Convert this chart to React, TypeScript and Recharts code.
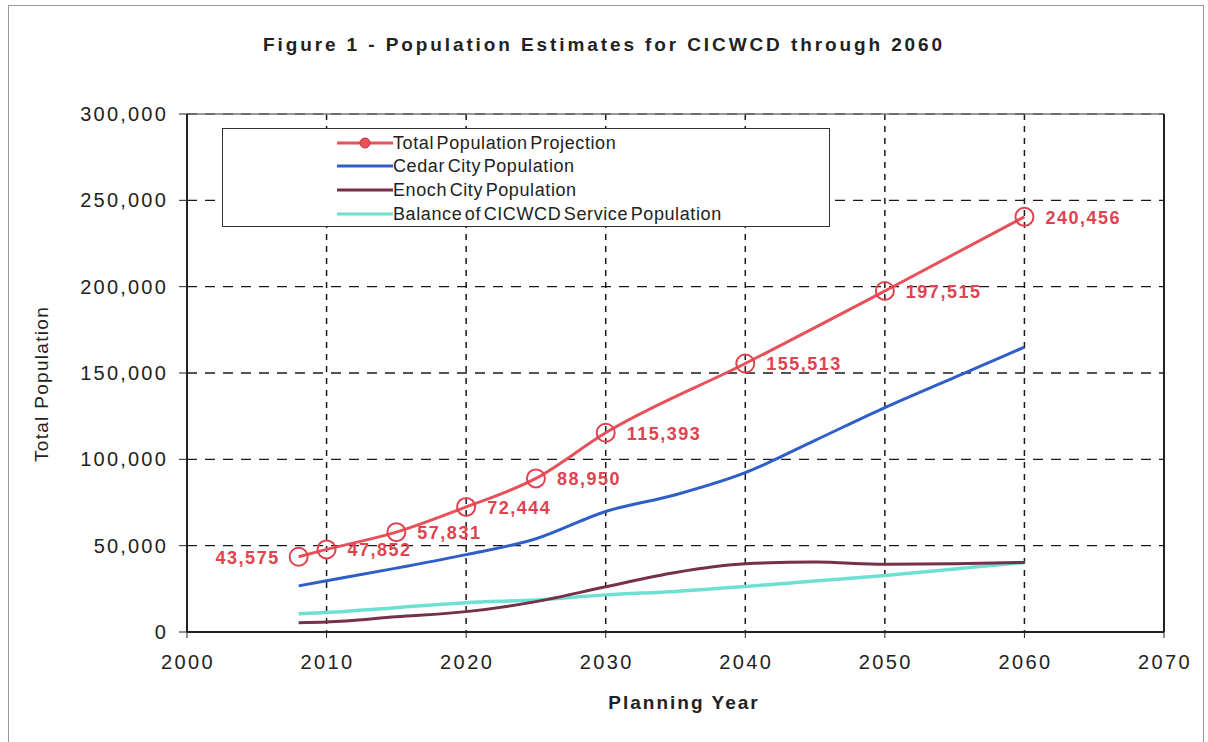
import { LineChart, Line, XAxis, YAxis, CartesianGrid, ReferenceLine, LabelList } from "recharts"

// values
const totalYears = [2008, 2010, 2015, 2020, 2025, 2030, 2040, 2050, 2060]
const totalPopulation = [43575, 47852, 57831, 72444, 88950, 115393, 155513, 197515, 240456]

const cityYears = [2008, 2010, 2015, 2020, 2025, 2030, 2035, 2040, 2045, 2050, 2055, 2060]
const cedarCity = [26700, 29700, 37000, 44800, 54000, 69800, 79500, 92300, 111000, 130000, 147500, 165000]
const enochCity = [5400, 5800, 8800, 11800, 17600, 26200, 34500, 39500, 40500, 39200, 39500, 40300]
const balanceService = [10500, 11300, 14100, 17000, 18600, 21500, 23500, 26300, 29500, 32700, 36500, 40300]

const xTicks = [2000, 2010, 2020, 2030, 2040, 2050, 2060, 2070]
const yTicks = [0, 50000, 100000, 150000, 200000, 250000, 300000]

const seriesNames = [
  "Total Population Projection",
  "Cedar City Population",
  "Enoch City Population",
  "Balance of CICWCD Service Population",
]
const seriesColors = ["#e8505a", "#2f5ec8", "#76304a", "#6ee0d2"]

const FONT = "Arial, 'Liberation Sans', sans-serif"

const totalData = totalYears.map((year, i) => ({ year, value: totalPopulation[i] }))
const cedarData = cityYears.map((year, i) => ({ year, value: cedarCity[i] }))
const enochData = cityYears.map((year, i) => ({ year, value: enochCity[i] }))
const balanceData = cityYears.map((year, i) => ({ year, value: balanceService[i] }))

const YTick = (props: any) => {
  const { x, y, payload } = props
  return (
    <text x={x - 9} y={y + 7} textAnchor="end" fontFamily={FONT} fontSize={20} letterSpacing={2.2} fill="#222">
      {payload.value.toLocaleString("en-US")}
    </text>
  )
}

const XTick = (props: any) => {
  const { x, y, payload } = props
  return (
    <text x={x + 1} y={y + 29} textAnchor="middle" fontFamily={FONT} fontSize={20} letterSpacing={2.4} fill="#222">
      {payload.value}
    </text>
  )
}

const TotalLabel = (props: any) => {
  const { x, y, value, index } = props
  const left = index === 0
  return (
    <text
      x={left ? x - 19 : x + 21}
      y={y + 7}
      textAnchor={left ? "end" : "start"}
      fontFamily={FONT}
      fontSize={18}
      fontWeight="bold"
      letterSpacing={1.5}
      fill="#e0424e"
    >
      {Number(value).toLocaleString("en-US")}
    </text>
  )
}

export default function App() {
  return (
    <div style={{ position: "absolute", left: 0, top: 0, width: 1208, height: 742, background: "#fff", overflow: "hidden" }}>
      <div
        style={{
          position: "absolute",
          left: 8,
          top: 5,
          width: 1194,
          height: 760,
          borderLeft: "1px solid #999",
          borderTop: "1px solid #999",
          borderRight: "1px solid #999",
        }}
      />
      <div
        style={{
          position: "absolute",
          left: 0,
          top: 35,
          width: 1208,
          textAlign: "center",
          fontFamily: FONT,
          fontSize: 19,
          lineHeight: "20px",
          fontWeight: "bold",
          letterSpacing: 2.9,
          color: "#222",
        }}
      >
        Figure 1 - Population Estimates for CICWCD through 2060
      </div>

      <LineChart width={1208} height={742} margin={{ top: 114, right: 44, bottom: 0, left: 0 }}>
        <CartesianGrid vertical={false} strokeDasharray="10 8" stroke="#1a1a1a" strokeWidth={1.3} />
        <CartesianGrid horizontal={false} strokeDasharray="6 6" stroke="#1a1a1a" strokeWidth={1.5} />
        <XAxis
          dataKey="year"
          type="number"
          domain={[2000, 2070]}
          ticks={xTicks}
          height={110}
          tickSize={6}
          tick={<XTick />}
          axisLine={{ stroke: "#222", strokeWidth: 2 }}
          tickLine={{ stroke: "#222" }}
        />
        <YAxis
          type="number"
          domain={[0, 300000]}
          ticks={yTicks}
          width={187}
          tickSize={8}
          tick={<YTick />}
          axisLine={{ stroke: "#222", strokeWidth: 2 }}
          tickLine={{ stroke: "#222" }}
        />
        <ReferenceLine y={300000} stroke="#777" strokeWidth={1.5} />
        <ReferenceLine x={2070} stroke="#222" strokeWidth={2} />

        <Line data={balanceData} dataKey="value" name={seriesNames[3]} type="monotone" stroke={seriesColors[3]} strokeWidth={3.5} dot={false} isAnimationActive={false} />
        <Line data={enochData} dataKey="value" name={seriesNames[2]} type="monotone" stroke={seriesColors[2]} strokeWidth={3} dot={false} isAnimationActive={false} />
        <Line data={cedarData} dataKey="value" name={seriesNames[1]} type="monotone" stroke={seriesColors[1]} strokeWidth={3} dot={false} isAnimationActive={false} />
        <Line
          data={totalData}
          dataKey="value"
          name={seriesNames[0]}
          type="monotone"
          stroke={seriesColors[0]}
          strokeWidth={3}
          dot={{ r: 9, stroke: "#e0424e", strokeWidth: 2, fill: "none" }}
          isAnimationActive={false}
        >
          <LabelList dataKey="value" content={<TotalLabel />} />
        </Line>
      </LineChart>

      {/* legend box */}
      <div
        style={{
          position: "absolute",
          left: 222,
          top: 128,
          width: 606,
          height: 97,
          border: "1.5px solid #333",
          background: "#fff",
        }}
      >
        {seriesNames.map((name, i) => (
          <div
            key={name}
            style={{ position: "absolute", left: 114, top: 2 + i * 23.7, height: 23, display: "flex", alignItems: "center" }}
          >
            <svg width={56} height={14} style={{ display: "block" }}>
              <line x1={0} y1={7} x2={56} y2={7} stroke={seriesColors[i]} strokeWidth={3} />
              {i === 0 && <circle cx={28} cy={7} r={5} fill={seriesColors[0]} stroke="#c93040" strokeWidth={1} />}
            </svg>
            <span
              style={{
                fontFamily: FONT,
                fontSize: 18,
                letterSpacing: 0.6,
                wordSpacing: -3,
                color: "#222",
                whiteSpace: "nowrap",
                lineHeight: "20px",
              }}
            >
              {name}
            </span>
          </div>
        ))}
      </div>

      <div
        style={{
          position: "absolute",
          left: -108,
          top: 373,
          width: 300,
          height: 22,
          lineHeight: "22px",
          textAlign: "center",
          transform: "rotate(-90deg)",
          fontFamily: FONT,
          fontSize: 19,
          letterSpacing: 1.3,
          color: "#222",
        }}
      >
        Total Population
      </div>
      <div
        style={{
          position: "absolute",
          left: 534,
          top: 692,
          width: 300,
          lineHeight: "22px",
          textAlign: "center",
          fontFamily: FONT,
          fontSize: 19,
          fontWeight: "bold",
          letterSpacing: 2,
          color: "#222",
        }}
      >
        Planning Year
      </div>
    </div>
  )
}
